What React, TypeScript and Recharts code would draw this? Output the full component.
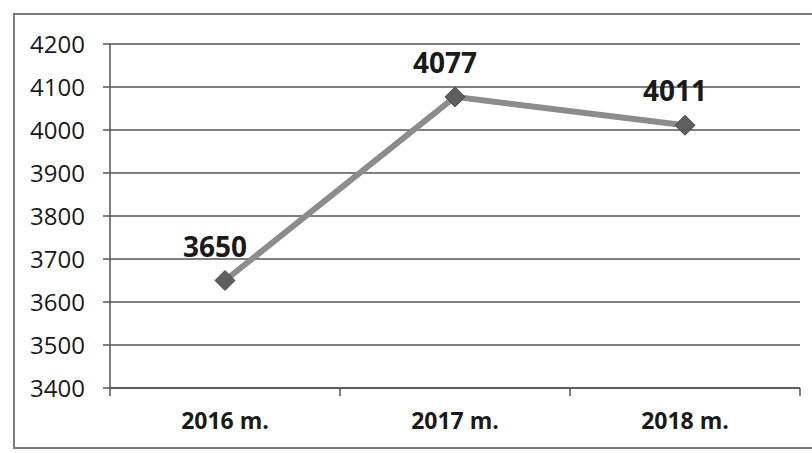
import React from 'react';
import { LineChart, Line, XAxis, YAxis, CartesianGrid, LabelList } from 'recharts';

const categories = ['2016 m.', '2017 m.', '2018 m.'];
const values = [3650, 4077, 4011];
const yTicks = [3400, 3500, 3600, 3700, 3800, 3900, 4000, 4100, 4200];

const data = categories.map((c, i) => ({ name: c, value: values[i] }));

const TICK_GAP = 25;

const Diamond = (props: any) => {
  const { cx, cy } = props;
  if (cx == null || cy == null) return null;
  const r = 10;
  return (
    <path
      d={`M${cx},${cy - r} L${cx + r},${cy} L${cx},${cy + r} L${cx - r},${cy} Z`}
      fill="#5e5e5e"
      stroke="#4a4a4a"
      strokeWidth={1}
    />
  );
};

const CatTick = (props: any) => {
  const { x, y, payload, index } = props;
  const half = payload && payload.offset ? payload.offset : 0;
  const axisY = y - TICK_GAP;
  return (
    <g>
      {half > 0 && index === 0 && (
        <line x1={x - half} x2={x - half} y1={axisY} y2={axisY + 8} stroke="#555" strokeWidth={1.5} />
      )}
      {half > 0 && (
        <line x1={x + half} x2={x + half} y1={axisY} y2={axisY + 8} stroke="#555" strokeWidth={1.5} />
      )}
      <text
        x={x}
        y={y}
        dy="0.71em"
        textAnchor="middle"
        fill="#1a1a1a"
        fontSize={23}
        fontWeight={700}
        fontFamily='"Open Sans", sans-serif'
      >
        {payload.value}
      </text>
    </g>
  );
};

export default function App() {
  return (
    <div style={{ position: 'absolute', left: 0, top: 0, width: 812, height: 453, background: '#fff', overflow: 'hidden' }}>
      <div
        style={{
          position: 'absolute',
          left: 13,
          top: 13,
          width: 820,
          height: 436,
          border: '2px solid #7a7a7a',
          boxSizing: 'border-box',
        }}
      />
      <div style={{ position: 'absolute', left: 0, top: 0 }}>
        <LineChart
          width={812}
          height={453}
          data={data}
          margin={{ top: 44, right: 12, bottom: 35, left: 0 }}
          style={{ fontFamily: '"Open Sans", sans-serif' }}
        >
          <CartesianGrid vertical={false} stroke="#555" strokeWidth={1.5} />
          <XAxis
            dataKey="name"
            scale="band"
            height={30}
            axisLine={{ stroke: '#555', strokeWidth: 1.5 }}
            tickLine={false}
            tickSize={0}
            tickMargin={TICK_GAP}
            tick={<CatTick />}
            interval={0}
          />
          <YAxis
            domain={[3400, 4200]}
            ticks={yTicks}
            width={110}
            axisLine={{ stroke: '#555', strokeWidth: 1.5 }}
            tickLine={{ stroke: '#555', strokeWidth: 1.5 }}
            tickSize={7}
            tickMargin={18}
            tick={{ fill: '#1a1a1a', fontSize: 24 }}
            interval={0}
          />
          <Line
            dataKey="value"
            stroke="#8c8c8c"
            strokeWidth={6}
            dot={<Diamond />}
            activeDot={false}
            isAnimationActive={false}
          >
            <LabelList
              dataKey="value"
              position="top"
              offset={24}
              fill="#1a1a1a"
              fontSize={28}
              fontWeight={700}
              dx={-10}
            />
          </Line>
        </LineChart>
      </div>
    </div>
  );
}
